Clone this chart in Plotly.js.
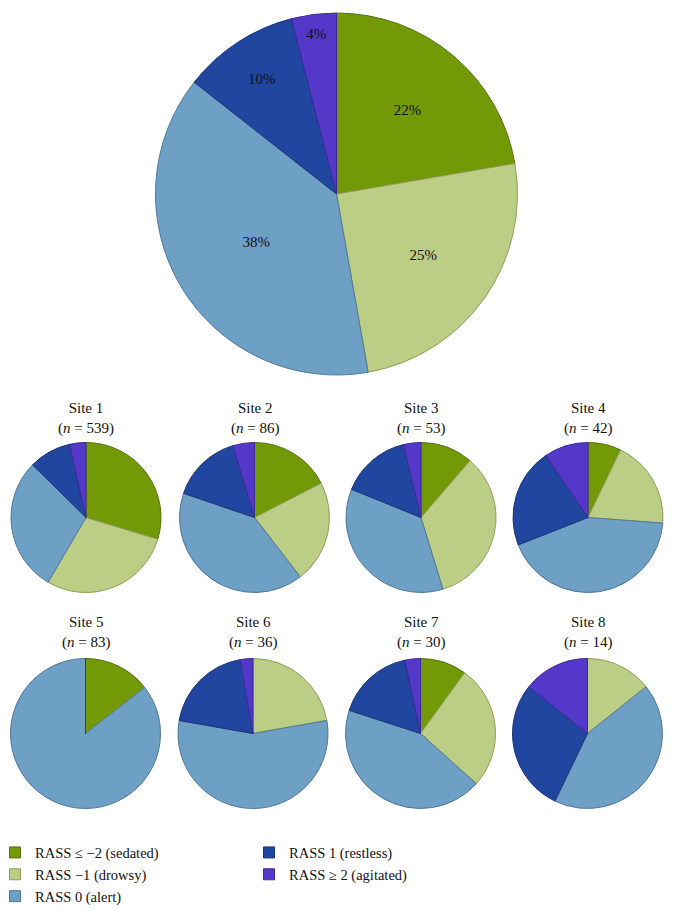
<!DOCTYPE html>
<html><head><meta charset="utf-8">
<script src="https://cdn.plot.ly/plotly-3.0.1.min.js"></script>
<style>html,body{margin:0;padding:0;background:#fff}</style>
</head><body><div id="chart" style="width:673px;height:910px"></div>
<script>
// ---- data ----
const categories = ['RASS ≤ −2 (sedated)', 'RASS −1 (drowsy)', 'RASS 0 (alert)', 'RASS 1 (restless)', 'RASS ≥ 2 (agitated)'];
const overallPercent = [22.3, 24.9, 38.4, 10.4, 4.0];
const siteNames = ['Site 1', 'Site 2', 'Site 3', 'Site 4', 'Site 5', 'Site 6', 'Site 7', 'Site 8'];
const siteN = [539, 86, 53, 42, 83, 36, 30, 14];
const site1 = [160, 155, 156, 49, 19];
const site2 = [15, 19, 35, 13, 4];
const site3 = [6, 18, 19, 8, 2];
const site4 = [3, 8, 18, 9, 4];
const site5 = [12, 0, 71, 0, 0];
const site6 = [0, 8, 20, 7, 1];
const site7 = [3, 8, 13, 5, 1];
const site8 = [0, 2, 6, 4, 2];
const siteValues = [site1, site2, site3, site4, site5, site6, site7, site8];
const legendColumn1 = [0, 1, 2];
const legendColumn2 = [3, 4];

// ---- style ----
const colors = ['#739a06', '#bccd86', '#6e9fc4', '#2046a0', '#5438c9'];
const lineColors = ['#55740a', '#8f9f58', '#4f7898', '#1a3578', '#3d2a98'];
const W = 673, H = 910;
const FONT = 'Liberation Serif';
const mainPie = {cx: 336.5, cy: 194, r: 181};
const siteCenters = [[86, 517.5], [254.5, 517.5], [421, 517.5], [588, 517.5],
                     [85.5, 733.5], [253, 733.5], [420.5, 733.5], [587.5, 733.5]];
const siteR = 75;
const titleY = [418, 632];

function dom(cx, cy, r) {
  return {x: [(cx - r) / W, (cx + r) / W], y: [(H - cy - r) / H, (H - cy + r) / H]};
}

const traces = [];
traces.push({
  type: 'pie', labels: categories, values: overallPercent, sort: false,
  direction: 'clockwise', rotation: 0,
  marker: {colors: colors, line: {color: lineColors, width: 1}},
  textinfo: 'percent', texttemplate: '%{percent:.0%}', textposition: 'inside',
  insidetextorientation: 'horizontal',
  textfont: {family: FONT, size: 15, color: '#111'},
  domain: dom(mainPie.cx, mainPie.cy, mainPie.r), showlegend: false, hoverinfo: 'skip'
});
siteValues.forEach((vals, i) => {
  traces.push({
    type: 'pie', labels: categories, values: vals, sort: false,
    direction: 'clockwise', rotation: 0,
    marker: {colors: colors, line: {color: lineColors, width: 1}},
    textinfo: 'none', textposition: 'none',
    domain: dom(siteCenters[i][0], siteCenters[i][1], siteR), showlegend: false, hoverinfo: 'skip'
  });
});
legendColumn1.concat(legendColumn2).forEach((k) => {
  traces.push({
    type: 'scatter', mode: 'markers', x: [null], y: [null], name: categories[k],
    marker: {symbol: 'square', size: 11, color: colors[k], line: {color: lineColors[k], width: 1}},
    legend: legendColumn1.includes(k) ? 'legend' : 'legend2', showlegend: true, hoverinfo: 'skip'
  });
});

const annotations = siteNames.map((s, i) => ({
  xref: 'paper', yref: 'paper', x: siteCenters[i][0] / W, y: (H - titleY[i < 4 ? 0 : 1]) / H,
  xanchor: 'center', yanchor: 'middle', showarrow: false, align: 'center',
  text: s + '<br>(<i>n</i> = ' + siteN[i] + ')',
  font: {family: FONT, size: 15, color: '#111'}
}));

const legendCommon = {
  orientation: 'v', xanchor: 'left', yanchor: 'top', bgcolor: 'rgba(0,0,0,0)',
  font: {family: FONT, size: 14.5, color: '#111'}, itemwidth: 30
};

const layout = {
  width: W, height: H, margin: {l: 0, r: 0, t: 0, b: 0, autoexpand: false},
  paper_bgcolor: '#fff', plot_bgcolor: 'rgba(0,0,0,0)',
  font: {family: FONT},
  xaxis: {visible: false}, yaxis: {visible: false},
  annotations: annotations,
  legend: Object.assign({x: -5 / W, y: (H - 836.5) / H}, legendCommon),
  legend2: Object.assign({x: 249 / W, y: (H - 836.5) / H}, legendCommon)
};

Plotly.newPlot('chart', traces, layout, {staticPlot: true, displayModeBar: false});
</script></body></html>
